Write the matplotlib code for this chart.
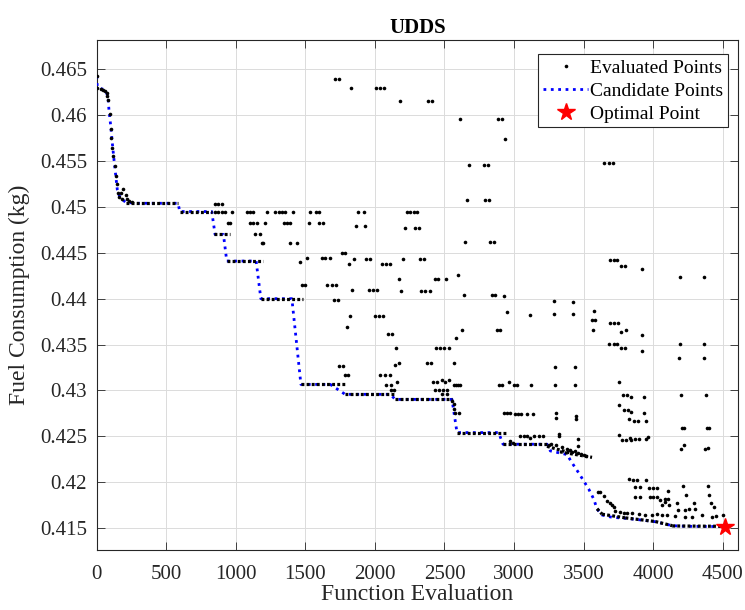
import matplotlib
matplotlib.use("Agg")
import matplotlib.pyplot as plt
from matplotlib.lines import Line2D

plt.rcParams['font.family'] = ['Liberation Serif', 'DejaVu Serif']

# candidate (best-so-far) path
cand_x = [0, 4, 30, 53, 72, 81, 88, 101, 112, 124, 137, 148, 168, 209, 292, 585,
          597, 827, 851, 911, 935, 1146, 1180, 1403, 1468, 1679, 1786, 2110, 2146,
          2554, 2590, 2889, 2921, 3237, 3261, 3381, 3417, 3465, 3537, 3573, 3597,
          3633, 3705, 3801, 3896, 4016, 4088, 4137, 4232, 4515]
cand_y = [0.4643, 0.4631, 0.4629, 0.4628, 0.4624, 0.4620, 0.4606, 0.4588, 0.4570,
          0.4552, 0.4534, 0.4519, 0.4510, 0.4505, 0.4504, 0.4504, 0.4495, 0.4495,
          0.4470, 0.4470, 0.4441, 0.4441, 0.4400, 0.4400, 0.43065, 0.43065, 0.42957,
          0.42957, 0.42902, 0.42902, 0.4254, 0.4254, 0.42413, 0.42413, 0.4234,
          0.4230, 0.4221, 0.4210, 0.41924, 0.41815, 0.41706, 0.41641, 0.41616,
          0.41605, 0.4159, 0.41568, 0.41543, 0.41525, 0.41518, 0.41515]

# densely evaluated stretches (start x, end x, start y, end y)
run_x0 = [209, 599, 845, 935, 1180, 1468, 1786, 2146, 2590, 2921, 3237, 3330,
          3597, 3633, 3801, 4016, 4137]
run_x1 = [585, 830, 959, 1199, 1486, 1798, 2146, 2554, 2955, 3237, 3400, 3561,
          3633, 3801, 4016, 4137, 4500]
run_y0 = [0.4504, 0.4495, 0.4470, 0.4441, 0.4400, 0.43065, 0.42957, 0.42902, 0.4254,
          0.42413, 0.4239, 0.4233, 0.4171, 0.4165, 0.4161, 0.4157, 0.41522]
run_y1 = [0.4504, 0.4495, 0.4470, 0.4441, 0.4400, 0.43065, 0.42957, 0.42902, 0.4254,
          0.42413, 0.4232, 0.4227, 0.4165, 0.4161, 0.4157, 0.41525, 0.41518]

# individual evaluated points
early_pts = [(0, 0.46432), (5, 0.46297), (29, 0.46286), (48, 0.46279), (60, 0.46261),
             (72, 0.46243), (76, 0.46207), (81, 0.46170), (93, 0.46008), (101, 0.45845),
             (105, 0.45753), (112, 0.45645), (119, 0.45554), (129, 0.45446),
             (137, 0.45337), (144, 0.45247), (153, 0.45155), (160, 0.45112),
             (173, 0.45155), (191, 0.45192), (209, 0.45127), (184, 0.45084),
             (220, 0.4509), (232, 0.45065), (256, 0.45054)]

upper_pts = [(1715, 0.4639), (1745, 0.4639), (1829, 0.4630), (2007, 0.4630),
             (2034, 0.4630), (2062, 0.4630), (2182, 0.4616), (2381, 0.4616),
             (2412, 0.4616), (2609, 0.4596), (2885, 0.4596), (2914, 0.4596),
             (2937, 0.4574), (2674, 0.4546), (2786, 0.4546), (2813, 0.4546),
             (2662, 0.4508), (2793, 0.4508), (2822, 0.4508), (3650, 0.4548),
             (3680, 0.4548), (3712, 0.4548),
             (851, 0.4503), (875, 0.4503), (899, 0.4503),
             (851, 0.4495), (875, 0.4495), (899, 0.4495), (923, 0.4495), (971, 0.4495),
             (1079, 0.4495), (1103, 0.4495), (1127, 0.4495), (1223, 0.4495),
             (1283, 0.4495), (1307, 0.4495), (1331, 0.4495), (1355, 0.4495),
             (1414, 0.4495), (1535, 0.4495), (1578, 0.4495), (1601, 0.4495),
             (1875, 0.4495), (1918, 0.4495), (2230, 0.4495), (2254, 0.4495),
             (2278, 0.4495), (2302, 0.4495),
             (947, 0.4483), (959, 0.4483), (1103, 0.4483), (1127, 0.4483),
             (1151, 0.4483), (1211, 0.4483), (1343, 0.4483), (1367, 0.4483),
             (1391, 0.4483), (1523, 0.4483), (1601, 0.4483), (1625, 0.4483),
             (1863, 0.4479), (1930, 0.4479), (2218, 0.4477), (2290, 0.4477),
             (2314, 0.4477),
             (1139, 0.4470), (1175, 0.4470),
             (1187, 0.44605), (1199, 0.44605), (1391, 0.44605), (1443, 0.44605),
             (2650, 0.4462), (2829, 0.4462), (2853, 0.4462),
             (1762, 0.4450), (1786, 0.4450),
             (1511, 0.44445), (1619, 0.44445), (1643, 0.44445), (1678, 0.44445),
             (1458, 0.44405),
             (1815, 0.4438), (2050, 0.4438), (2080, 0.4438), (2110, 0.4438),
             (1851, 0.44435), (1937, 0.44435), (1966, 0.44435),
             (2201, 0.44428), (2321, 0.44428), (2350, 0.44428),
             (3688, 0.4442), (3717, 0.4442), (3741, 0.4442),
             (3770, 0.44359), (3801, 0.44359), (3921, 0.44326),
             (4191, 0.44239), (4367, 0.44239)]

mid_pts = [(2170, 0.44214), (2429, 0.44214), (2457, 0.44214), (2513, 0.44214),
           (2597, 0.44253),
           (1475, 0.44145), (1494, 0.44145), (1659, 0.44145), (1691, 0.44145),
           (1722, 0.44145),
           (1835, 0.44098), (1954, 0.44098), (1984, 0.44098), (2014, 0.44098),
           (2189, 0.44087), (2333, 0.44087), (2363, 0.44087), (2393, 0.44087),
           (2640, 0.44043), (2842, 0.44043), (2865, 0.44043), (2925, 0.44025),
           (1706, 0.43989), (1738, 0.43989), (3285, 0.43978), (3427, 0.4396),
           (3578, 0.4387), (2949, 0.43859), (3112, 0.43823), (3285, 0.43837),
           (3424, 0.43837),
           (1822, 0.43815), (1997, 0.43815), (2027, 0.43815), (2058, 0.43815),
           (3563, 0.43764), (3585, 0.43764), (3693, 0.43732), (3722, 0.43732),
           (3745, 0.43732), (1798, 0.43696),
           (2628, 0.4366), (2878, 0.4366), (2901, 0.4366), (2583, 0.43568),
           (3565, 0.43656), (3803, 0.43656), (3772, 0.43638), (3923, 0.43601),
           (2091, 0.43616), (2122, 0.43616),
           (3685, 0.43511), (3717, 0.43511), (3741, 0.43511), (4191, 0.43503),
           (4369, 0.43503), (3770, 0.43457), (3801, 0.43457), (3921, 0.43431),
           (2153, 0.43464), (2441, 0.43464), (2471, 0.43464), (2500, 0.43464),
           (2529, 0.43464),
           (4189, 0.43351), (4364, 0.43351),
           (2170, 0.43297), (2374, 0.43297), (2403, 0.43297), (2566, 0.43297),
           (2141, 0.43275), (1745, 0.43264), (1774, 0.43264),
           (3297, 0.43253), (3436, 0.43253),
           (1786, 0.43166), (1810, 0.43166), (2033, 0.43166), (2069, 0.43166),
           (2105, 0.43166),
           (2158, 0.43094), (2414, 0.43094), (2446, 0.43094), (2506, 0.43094),
           (2966, 0.43094), (3753, 0.4309), (2482, 0.43112), (2536, 0.43112),
           (2566, 0.4306), (2580, 0.4306), (2596, 0.4306), (2614, 0.4306),
           (2083, 0.4306), (2113, 0.4306), (2889, 0.4306), (2914, 0.4306),
           (2997, 0.43056), (3021, 0.43056), (3124, 0.43056), (3297, 0.43056),
           (3436, 0.43056),
           (3784, 0.42955), (3813, 0.42955), (3844, 0.4293), (3937, 0.42925),
           (4203, 0.42949), (4381, 0.42949),
           (2115, 0.4300), (2137, 0.4300), (2434, 0.43002), (2460, 0.43002),
           (2490, 0.43002), (2518, 0.43002), (2480, 0.42956), (2520, 0.42956)]

lower_pts = [(2554, 0.4288), (2568, 0.42848), (2572, 0.4280), (2578, 0.42758),
             (2601, 0.42758),
             (2925, 0.42758), (2949, 0.42758), (2973, 0.42758),
             (3004, 0.42746), (3028, 0.42746), (3052, 0.42746), (3093, 0.42746),
             (3136, 0.42746), (3304, 0.42758), (3304, 0.42703), (3444, 0.4272),
             (3446, 0.4269),
             (3755, 0.42837), (3788, 0.42783), (3817, 0.42783), (3844, 0.42764),
             (3937, 0.42758), (3824, 0.42685), (3860, 0.42667), (3889, 0.42667),
             (3952, 0.42667), (4208, 0.42594), (4220, 0.42594), (4388, 0.42594),
             (4400, 0.42594),
             (3045, 0.4250), (3070, 0.4250), (3095, 0.4250), (3117, 0.42485),
             (3146, 0.4250), (3176, 0.4250), (3205, 0.4250), (3321, 0.4252),
             (3321, 0.4250), (3461, 0.42475),
             (3753, 0.42511), (3777, 0.4246), (3808, 0.4246), (3837, 0.42486),
             (3841, 0.42457), (3872, 0.42475), (3897, 0.42475), (3952, 0.42475),
             (3961, 0.42497),
             (4201, 0.42359), (4225, 0.42402), (4376, 0.42359), (4395, 0.42377),
             (2973, 0.4245), (2996, 0.4243),
             (3250, 0.4240), (3265, 0.4242), (3300, 0.4240), (3345, 0.4238),
             (3380, 0.4236), (3400, 0.4235), (3420, 0.4233), (3440, 0.4234),
             (3460, 0.4232), (3480, 0.4231), (3500, 0.4230), (3520, 0.4229),
             (3457, 0.42389),
             (3824, 0.42033), (3856, 0.42025), (3885, 0.42025), (3952, 0.42025),
             (4216, 0.41953), (4395, 0.41953), (3872, 0.41942), (3904, 0.41942),
             (3968, 0.41934), (4000, 0.41934), (4029, 0.41934),
             (3601, 0.41895), (3621, 0.41895), (3645, 0.41844),
             (3872, 0.41833), (3904, 0.41833), (3975, 0.41833), (4000, 0.41833),
             (4029, 0.41833), (4105, 0.41905), (4105, 0.41815), (4088, 0.41815),
             (4239, 0.41864), (4400, 0.41864),
             (3669, 0.41797), (3690, 0.4177), (3705, 0.4175), (3722, 0.41725),
             (4052, 0.41804), (4065, 0.4175), (4085, 0.4178), (4112, 0.4175),
             (4172, 0.41775), (4180, 0.4170), (4230, 0.4170), (4256, 0.4171),
             (4292, 0.41775), (4304, 0.41702), (4419, 0.41775), (4436, 0.41725),
             (3729, 0.41686), (3760, 0.4167), (3790, 0.4166), (3813, 0.4166),
             (3849, 0.4166), (3897, 0.41655), (3945, 0.4164), (3990, 0.4164),
             (4030, 0.4165), (4065, 0.4164), (4097, 0.4164), (4160, 0.4163),
             (4232, 0.4162), (4280, 0.4162), (4350, 0.4164), (4420, 0.4162),
             (4455, 0.4163), (4500, 0.4164)]

opt_x, opt_y = 4515, 0.41515

xticks = list(range(0, 4501, 500))
yticks = [0.415, 0.42, 0.425, 0.43, 0.435, 0.44, 0.445, 0.45, 0.455, 0.46, 0.465]

fig = plt.figure(figsize=(7.45, 6.1), dpi=100)
ax = fig.add_axes([0.1298, 0.0984, 0.8608, 0.836])

ax.plot(cand_x, cand_y, color='#0000ff', ls=':', lw=2.0, zorder=3)

for x0, x1, y0, y1 in zip(run_x0, run_x1, run_y0, run_y1):
    ax.plot([x0, x1], [y0, y1], color='k', ls=(0, (0.9, 0.7)), lw=2.3,
            solid_capstyle='butt', zorder=4)

for pts in (early_pts, upper_pts, mid_pts, lower_pts):
    px, py = zip(*pts)
    ax.plot(px, py, ls='none', marker='o', ms=2.6, mfc='k', mec='none', zorder=5)

ax.plot([opt_x], [opt_y], ls='none', marker='*', ms=13, mfc='red', mec='red', zorder=6)

ax.set_xlim(0, 4610)
ax.set_ylim(0.4126, 0.4682)
ax.set_xticks(xticks)
ax.set_xticklabels([str(t) for t in xticks])
ax.set_yticks(yticks)
ax.set_yticklabels(['%g' % t for t in yticks])
ax.tick_params(direction='in', length=6, width=0.6, top=True, right=True,
               labelsize=15, color='0.15', labelcolor='0.15', pad=7)
ax.tick_params(axis='x', pad=11)
for s in ax.spines.values():
    s.set_color('0.15')
    s.set_linewidth(0.8)
ax.grid(True, color='0.86', lw=0.7)
ax.set_axisbelow(True)

ax.set_xlabel('Function Evaluation', fontsize=17, color='0.15', labelpad=0)
ax.set_ylabel('Fuel Consumption (kg)', fontsize=17, color='0.15', labelpad=7)
ax.set_title('UDDS', fontsize=15, fontweight='bold', pad=5)

handles = [
    Line2D([], [], ls='none', marker='o', ms=2.6, mfc='k', mec='none'),
    Line2D([], [], color='#0000ff', ls=':', lw=2.0),
    Line2D([], [], ls='none', marker='*', ms=13, mfc='red', mec='red'),
]
leg = ax.legend(handles, ['Evaluated Points', 'Candidate Points', 'Optimal Point'],
                loc='upper right', bbox_to_anchor=(0.9844, 0.9725), borderaxespad=0,
                fontsize=14, frameon=True, fancybox=False, framealpha=1,
                edgecolor='0.15', handlelength=2.3, handletextpad=0.1,
                borderpad=0.25, labelspacing=0.28)
leg.get_frame().set_linewidth(0.8)

fig.savefig('out.png', dpi=100)
